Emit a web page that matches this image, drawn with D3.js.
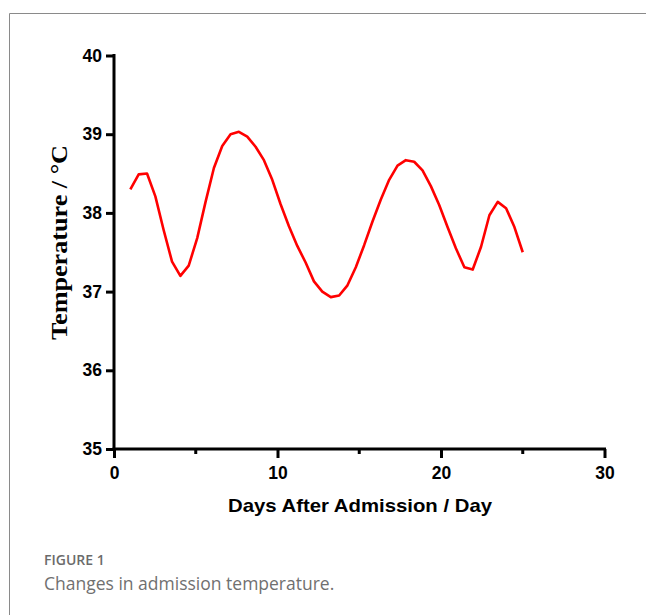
<!DOCTYPE html>
<html>
<head>
<meta charset="utf-8">
<script src="https://cdn.jsdelivr.net/npm/d3@7/dist/d3.min.js"></script>
<style>
  html, body { margin: 0; padding: 0; background: #fff; }
  svg { display: block; }
</style>
</head>
<body>
<div id="chart"></div>
<script>
// days after admission (x) and body temperature in °C (y)
const days = [1.00, 1.51, 2.02, 2.53, 3.04, 3.55, 4.06, 4.57, 5.09, 5.60,
  6.11, 6.62, 7.13, 7.64, 8.15, 8.66, 9.17, 9.68, 10.19, 10.70,
  11.21, 11.72, 12.23, 12.74, 13.26, 13.77, 14.28, 14.79, 15.30, 15.81,
  16.32, 16.83, 17.34, 17.85, 18.36, 18.87, 19.38, 19.89, 20.40, 20.91,
  21.43, 21.94, 22.45, 22.96, 23.47, 23.98, 24.49, 25.00];
const temps = [38.30, 38.49, 38.50, 38.21, 37.78, 37.38, 37.20, 37.33, 37.68, 38.14,
  38.57, 38.85, 39.00, 39.03, 38.97, 38.84, 38.67, 38.42, 38.11, 37.83,
  37.58, 37.37, 37.13, 37.00, 36.93, 36.95, 37.08, 37.31, 37.59, 37.89,
  38.17, 38.42, 38.60, 38.67, 38.65, 38.54, 38.34, 38.10, 37.82, 37.55,
  37.31, 37.28, 37.57, 37.97, 38.14, 38.06, 37.82, 37.50];
const xMajorTicks = [0, 10, 20, 30];
const xMinorTicks = [5, 15, 25];
const yTicks = [35, 36, 37, 38, 39, 40];

const width = 646, height = 615;
const svg = d3.select('#chart').append('svg')
  .attr('width', width)
  .attr('height', height);

// page frame
svg.append('path')
  .attr('d', 'M9.5,' + height + 'V13.5H' + width)
  .attr('fill', 'none')
  .attr('stroke', '#8a8a8a')
  .attr('stroke-width', 1);

const x = d3.scaleLinear().domain([0, 30]).range([114, 604.5]);
const y = d3.scaleLinear().domain([35, 40]).range([449, 55.5]);

const tickFont = g => g.selectAll('.tick text')
  .attr('fill', '#000')
  .attr('font-family', 'Liberation Sans, Arial, sans-serif')
  .attr('font-weight', 'bold')
  .attr('font-size', '17.5px');

// x axis: major ticks labelled, minor ticks unlabelled
const gx = svg.append('g')
  .attr('transform', 'translate(0,' + y(35) + ')');
gx.call(d3.axisBottom(x).tickValues(xMajorTicks).tickFormat(d3.format('d'))
    .tickSize(9).tickSizeOuter(0).tickPadding(9))
  .call(g => g.select('.domain').attr('stroke-width', 3).attr('d', 'M' + (x(0) - 1.5) + ',0H' + (x(30) + 1.5)))
  .call(g => g.selectAll('.tick line').attr('stroke-width', 3))
  .call(tickFont);
gx.selectAll('line.minor')
  .data(xMinorTicks)
  .join('line')
  .attr('class', 'minor')
  .attr('x1', d => x(d))
  .attr('x2', d => x(d))
  .attr('y1', 0)
  .attr('y2', 5)
  .attr('stroke', '#000')
  .attr('stroke-width', 3);

// y axis
svg.append('g')
  .attr('transform', 'translate(' + x(0) + ',0)')
  .call(d3.axisLeft(y).tickValues(yTicks).tickFormat(d3.format('d'))
    .tickSize(8).tickSizeOuter(0).tickPadding(4))
  .call(g => g.select('.domain').attr('stroke-width', 3).attr('d', 'M0,' + (y(40) - 1.5) + 'V' + y(35)))
  .call(g => g.selectAll('.tick line').attr('stroke-width', 3))
  .call(tickFont);

// temperature line
const line = d3.line()
  .x((d, i) => x(days[i]))
  .y(d => y(d));
svg.append('path')
  .datum(temps)
  .attr('d', line)
  .attr('fill', 'none')
  .attr('stroke', '#ff0000')
  .attr('stroke-width', 2.6)
  .attr('stroke-linejoin', 'round');

// axis titles
svg.append('text')
  .attr('x', 228)
  .attr('y', 512)
  .attr('textLength', 264)
  .attr('lengthAdjust', 'spacingAndGlyphs')
  .attr('font-family', 'Liberation Sans, Arial, sans-serif')
  .attr('font-weight', 'bold')
  .attr('font-size', '18.5px')
  .text('Days After Admission / Day');

svg.append('text')
  .attr('transform', 'translate(67,340) rotate(-90)')
  .attr('textLength', 195)
  .attr('lengthAdjust', 'spacingAndGlyphs')
  .attr('font-family', 'Liberation Serif, Times New Roman, serif')
  .attr('font-weight', 'bold')
  .attr('font-size', '23px')
  .text('Temperature / °C');

// caption
svg.append('text')
  .attr('x', 44)
  .attr('y', 565)
  .attr('font-family', 'Open Sans, sans-serif')
  .attr('font-weight', 600)
  .attr('font-size', '14px')
  .attr('fill', '#6b6b6b')
  .text('FIGURE 1');

svg.append('text')
  .attr('x', 44)
  .attr('y', 590)
  .attr('font-family', 'Open Sans, sans-serif')
  .attr('font-size', '17.5px')
  .attr('fill', '#707070')
  .text('Changes in admission temperature.');
</script>
</body>
</html>
